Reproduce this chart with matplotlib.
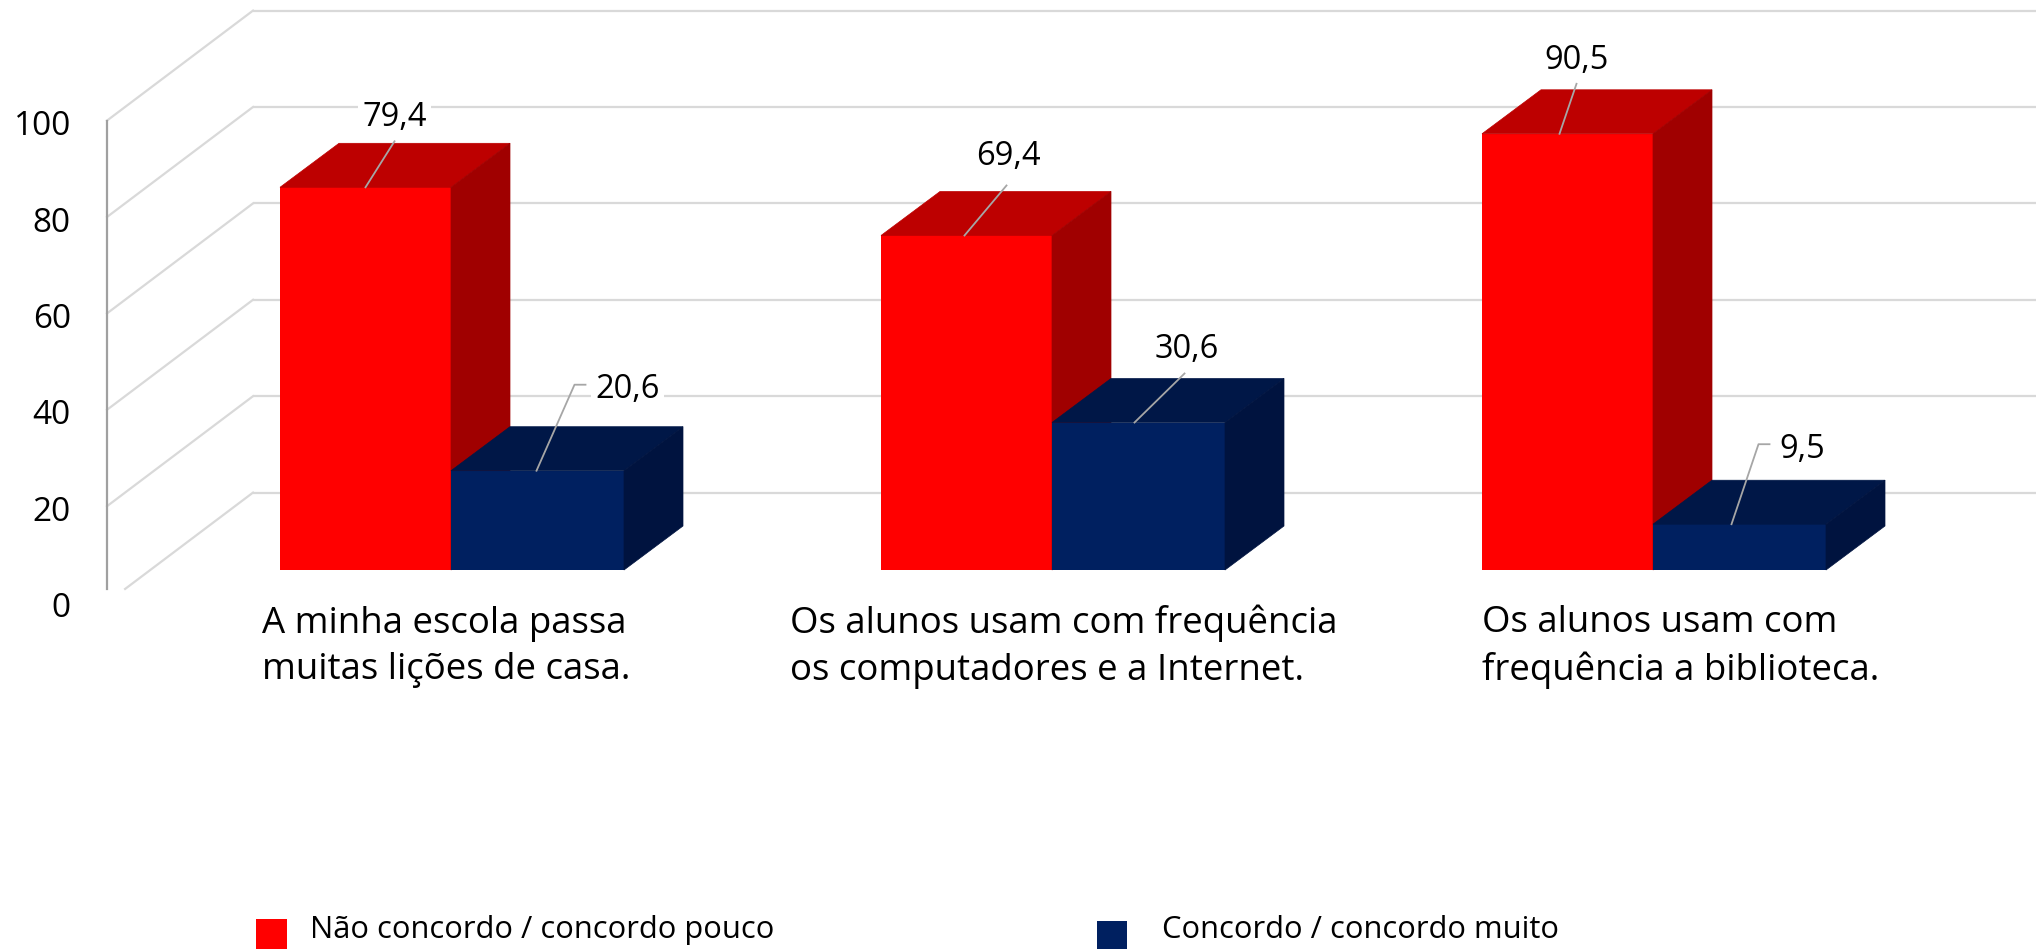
import matplotlib
matplotlib.use('Agg')
import matplotlib.pyplot as plt
from matplotlib.patches import Rectangle
from matplotlib.transforms import Affine2D

categories = ['A minha escola passa\nmuitas lições de casa.',
              'Os alunos usam com frequência\nos computadores e a Internet.',
              'Os alunos usam com\nfrequência a biblioteca.']
disagree = [79.4, 69.4, 90.5]
agree = [20.6, 30.6, 9.5]
series_names = ['Não concordo / concordo pouco', 'Concordo / concordo muito']
yticks = [0, 20, 40, 60, 80, 100]

W, H = 2036, 949
plt.rcParams['font.family'] = ['Open Sans', 'DejaVu Sans']

fig = plt.figure(figsize=(W / 100, H / 100), dpi=100)
ax = fig.add_axes([107 / W, (H - 602.6) / H, (W - 107) / W, 482 / H])

# one x unit = 601 px, x=0 is where the first red and blue bars meet
x_unit = 601.0
y_unit = 4.82
ax.set_xlim(-344 / x_unit, 1585 / x_unit)
ax.set_ylim(0, 100)
x_left, x_right = ax.get_xlim()

# 3d look: depth of the walls and of the bars, in data units
wall_dx, wall_dy = 146 / x_unit, 110 / y_unit
bar_dx, bar_dy = 59 / x_unit, 44 / y_unit
bar_base = 32.6 / y_unit
red_w = 171 / x_unit
blue_w = 173 / x_unit

grid_c = '#d9d9d9'
floor_cut = 0.124  # the floor line is cut off at the chart area bottom
for v in yticks:
    ax.plot([x_left + wall_dx, x_right], [v + wall_dy, v + wall_dy], color=grid_c, lw=1.6,
            clip_on=False, zorder=1, solid_capstyle='butt')
    start = floor_cut if v == 0 else 0
    ax.plot([x_left + wall_dx * start, x_left + wall_dx], [v + wall_dy * start, v + wall_dy],
            color=grid_c, lw=1.6, clip_on=False, zorder=1)


def draw_bar(x, w, val, front, top, side):
    ax.bar(x, val, w, bottom=bar_base, align='edge', color=front, zorder=3,
           edgecolor='none', clip_on=False)
    y0, y1 = bar_base, bar_base + val
    ax.fill([x, x + w, x + w + bar_dx, x + bar_dx],
            [y1, y1, y1 + bar_dy, y1 + bar_dy], color=top, lw=0.5, zorder=3, clip_on=False)
    ax.fill([x + w, x + w + bar_dx, x + w + bar_dx, x + w],
            [y0, y0 + bar_dy, y1 + bar_dy, y1], color=side, lw=0.5, zorder=3, clip_on=False)


for i in range(3):
    draw_bar(i - red_w, red_w, disagree[i], '#ff0000', '#bd0000', '#a00000')
    draw_bar(i, blue_w, agree[i], '#002060', '#001747', '#00133f')

# leader lines and labels, pixel offsets from the middle of each bar's front top edge
leaders = [[(0, 0), (29, 46)],
           [(-1, 0), (37, 86), (48, 86)],
           [(-2, 0), (40, 50)],
           [(-4, 0), (46, 49)],
           [(-8, 0), (9, 50)],
           [(-8, 0), (19, 80), (30, 80)]]
label_off = [(29, 70), (90, 81), (42, 79), (48, 73), (9, 73), (63, 75)]

k = 0
for i in range(3):
    for x, val in ((i - red_w / 2, disagree[i]), (i + blue_w / 2, agree[i])):
        top_y = bar_base + val
        px, py = ax.transData.transform((x, top_y))
        xs = [p[0] for p in leaders[k]]
        ys = [p[1] for p in leaders[k]]
        ax.plot(xs, ys, color='#a6a6a6', lw=1.3, zorder=4, clip_on=False,
                transform=Affine2D().translate(px, py))
        ax.annotate(f'{val:.1f}'.replace('.', ','), (x, top_y), xytext=label_off[k],
                    textcoords='offset pixels', ha='center', va='center', fontsize=23.5,
                    color='black', zorder=5, annotation_clip=False,
                    bbox=dict(fc='white', ec='none', pad=3))
        k += 1

for s in ['top', 'right', 'bottom']:
    ax.spines[s].set_visible(False)
ax.spines['left'].set_color('#a0a0a0')
ax.spines['left'].set_linewidth(1.6)
ax.spines['left'].set_bounds((602.6 - 589) / y_unit, 100)
ax.set_yticks(yticks)
ax.set_xticks([])
ax.tick_params(axis='y', length=0, pad=26, labelsize=24, labelcolor='black')
# tick labels sit a little below their gridline ends
for t in ax.get_yticklabels():
    t.set_verticalalignment('center')
    t.set_transform(t.get_transform() + Affine2D().translate(0, -6))
ax.patch.set_visible(False)

# category labels
label_px = [262, 789.5, 1482]
for lx, c in zip(label_px, categories):
    fig.text(lx / W, (H - 647) / H, c, ha='left', va='center', fontsize=26.4,
             linespacing=1.4, color='black')

# legend
fig.add_artist(Rectangle((256 / W, 0), 31 / W, 30 / H, transform=fig.transFigure,
                         fc='#ff0000', ec='none'))
fig.add_artist(Rectangle((1097 / W, 0), 30 / W, 28 / H, transform=fig.transFigure,
                         fc='#002060', ec='none'))
fig.text(310 / W, (H - 930) / H, series_names[0], ha='left', va='center', fontsize=22.2)
fig.text(1162 / W, (H - 930) / H, series_names[1], ha='left', va='center', fontsize=22.2)

fig.savefig('out.png', dpi=100)
